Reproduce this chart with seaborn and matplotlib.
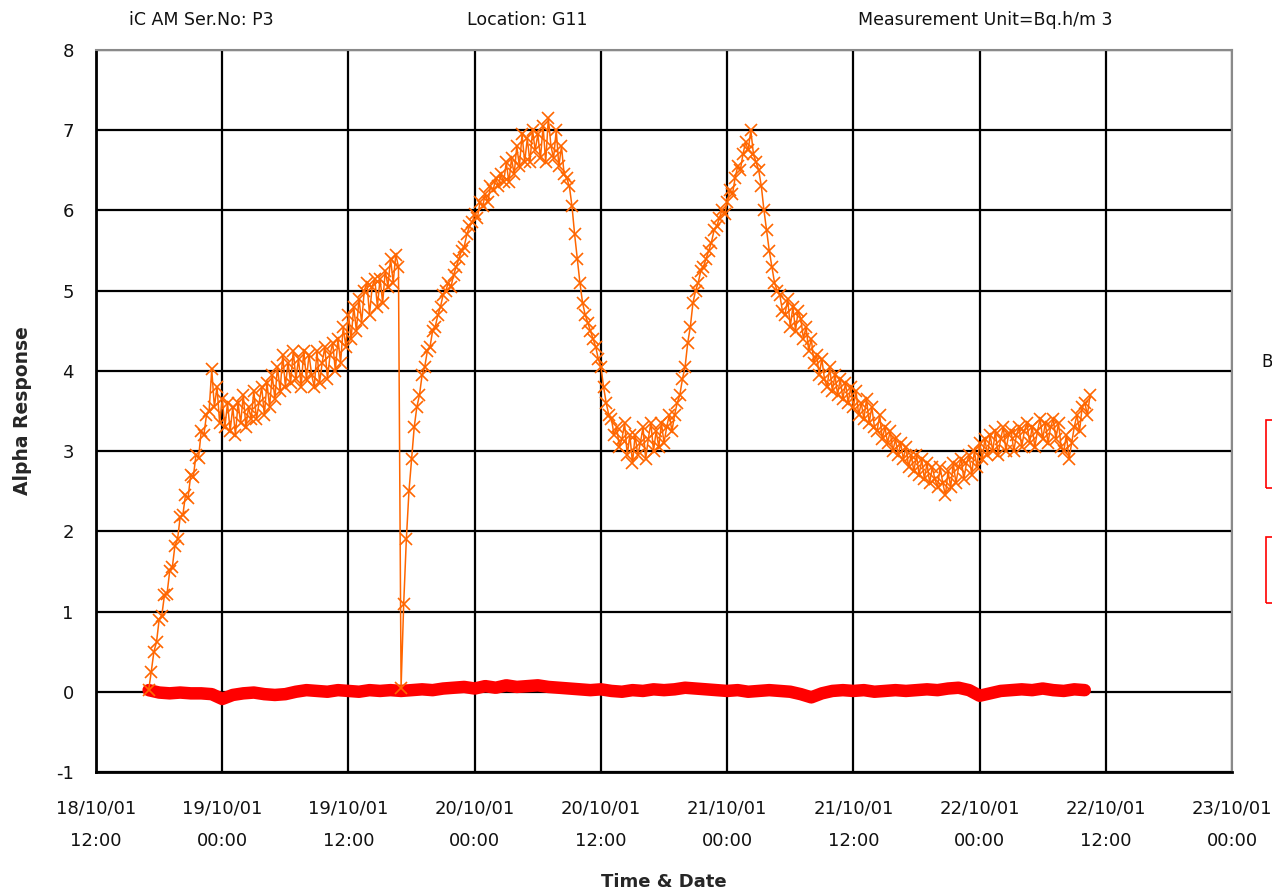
import matplotlib
matplotlib.use("Agg")
import matplotlib.pyplot as plt
import matplotlib.dates as mdates
from matplotlib.patches import Rectangle
import pandas as pd
import seaborn as sns

# Alpha response logged every 15 minutes from 18/10/01 17:00
alpha_start = "2001-10-18 17:00"
alpha_step = "15min"
alpha_response = [
    0.02, 0.25, 0.50, 0.62, 0.90, 0.95, 1.20, 1.22,
    1.50, 1.55, 1.82, 1.90, 2.18, 2.20, 2.45, 2.42,
    2.70, 2.68, 2.95, 2.92, 3.25, 3.20, 3.45, 3.50,
    4.02, 3.55, 3.80, 3.35, 3.65, 3.30, 3.60, 3.25,
    3.55, 3.20, 3.60, 3.35, 3.70, 3.30, 3.55, 3.40,
    3.75, 3.40, 3.60, 3.80, 3.45, 3.85, 3.55, 3.95,
    3.65, 4.05, 3.75, 4.20, 3.80, 4.10, 3.85, 4.25,
    3.90, 4.15, 3.80, 4.25, 3.90, 4.20, 3.95, 3.80,
    4.25, 3.85, 4.10, 4.30, 3.90, 4.20, 4.35, 4.00,
    4.40, 4.10, 4.55, 4.30, 4.70, 4.40, 4.80, 4.50,
    4.90, 4.60, 5.00, 5.10, 4.70, 5.05, 5.15, 4.80,
    5.15, 4.85, 5.25, 5.05, 5.40, 5.10, 5.45, 5.30,
    0.05, 1.10, 1.90, 2.50, 2.90, 3.30, 3.55, 3.70,
    3.95, 4.05, 4.25, 4.30, 4.50, 4.55, 4.70, 4.80,
    4.95, 5.00, 5.10, 5.05, 5.20, 5.30, 5.40, 5.50,
    5.55, 5.70, 5.80, 5.85, 5.95, 5.90, 6.10, 6.05,
    6.20, 6.10, 6.30, 6.25, 6.40, 6.30, 6.45, 6.35,
    6.60, 6.35, 6.65, 6.45, 6.80, 6.55, 6.95, 6.60,
    6.90, 6.60, 7.00, 6.75, 6.95, 6.65, 7.05, 6.60,
    7.15, 6.80, 6.65, 7.00, 6.55, 6.80, 6.45, 6.40,
    6.30, 6.05, 5.70, 5.40, 5.10, 4.85, 4.70, 4.60,
    4.50, 4.40, 4.30, 4.15, 4.05, 3.80, 3.60, 3.45,
    3.40, 3.20, 3.30, 3.05, 3.15, 3.35, 2.95, 3.20,
    2.85, 3.20, 2.95, 3.10, 3.30, 2.90, 3.15, 3.35,
    3.00, 3.25, 3.05, 3.35, 3.10, 3.30, 3.45, 3.25,
    3.45, 3.60, 3.70, 3.90, 4.05, 4.35, 4.55, 4.85,
    5.00, 5.10, 5.25, 5.30, 5.40, 5.50, 5.60, 5.75,
    5.80, 5.90, 6.00, 5.95, 6.10, 6.25, 6.20, 6.40,
    6.55, 6.50, 6.70, 6.85, 6.75, 7.00, 6.70, 6.60,
    6.50, 6.30, 6.00, 5.75, 5.50, 5.30, 5.10, 5.00,
    4.95, 4.75, 4.70, 4.90, 4.55, 4.80, 4.50, 4.75,
    4.65, 4.40, 4.55, 4.25, 4.40, 4.10, 4.20, 3.95,
    4.15, 3.90, 3.80, 4.05, 3.75, 3.95, 3.70, 3.90,
    3.65, 3.85, 3.60, 3.80, 3.55, 3.75, 3.45, 3.60,
    3.40, 3.65, 3.35, 3.55, 3.30, 3.25, 3.45, 3.15,
    3.30, 3.10, 3.25, 3.00, 3.15, 2.95, 3.10, 2.90,
    3.05, 2.80, 2.95, 2.75, 2.95, 2.70, 2.90, 2.65,
    2.85, 2.60, 2.80, 2.65, 2.55, 2.80, 2.60, 2.45,
    2.75, 2.55, 2.85, 2.60, 2.80, 2.90, 2.65, 2.85,
    2.95, 2.70, 3.00, 2.80, 3.10, 2.90, 3.15, 2.95,
    3.20, 3.00, 3.25, 2.95, 3.15, 3.30, 3.00, 3.20,
    3.25, 3.00, 3.20, 3.30, 3.05, 3.25, 3.35, 3.10,
    3.30, 3.05, 3.25, 3.40, 3.15, 3.35, 3.10, 3.30,
    3.40, 3.15, 3.35, 3.05, 3.00, 3.20, 2.90, 3.10,
    3.30, 3.45, 3.25, 3.55, 3.60, 3.45, 3.70,
]

# Background channel, hourly from 18/10/01 17:00
background_start = "2001-10-18 17:00"
background_step = "1h"
background = [
    0.02, -0.01, -0.02, -0.01, -0.02, -0.02, -0.03, -0.09, -0.04, -0.02,
    -0.01, -0.03, -0.04, -0.03, 0.00, 0.02, 0.01, 0.00, 0.02, 0.01,
    0.00, 0.02, 0.01, 0.02, 0.01, 0.02, 0.03, 0.02, 0.04, 0.05,
    0.06, 0.04, 0.07, 0.05, 0.08, 0.06, 0.07, 0.08, 0.06, 0.05,
    0.04, 0.03, 0.02, 0.03, 0.01, 0.00, 0.02, 0.01, 0.03, 0.02,
    0.03, 0.05, 0.04, 0.03, 0.02, 0.01, 0.02, 0.00, 0.01, 0.02,
    0.01, 0.00, -0.03, -0.07, -0.02, 0.01, 0.02, 0.01, 0.02, 0.00,
    0.01, 0.02, 0.01, 0.02, 0.03, 0.02, 0.04, 0.05, 0.02, -0.05,
    -0.02, 0.01, 0.02, 0.03, 0.02, 0.04, 0.02, 0.01, 0.03, 0.02,
]

y_ticks = [-1, 0, 1, 2, 3, 4, 5, 6, 7, 8]
x_start = "2001-10-18 12:00"
x_end = "2001-10-23 00:00"
header_texts = ["iC AM Ser.No: P3", "Location: G11", "Measurement Unit=Bq.h/m 3"]

alpha_df = pd.DataFrame({
    "time": pd.date_range(alpha_start, periods=len(alpha_response), freq=alpha_step),
    "value": alpha_response,
})
bg_df = pd.DataFrame({
    "time": pd.date_range(background_start, periods=len(background), freq=background_step),
    "value": background,
})

sns.set_style("white")
plt.rcParams["font.family"] = ["DejaVu Sans"]
plt.rcParams["axes.unicode_minus"] = False

fig = plt.figure(figsize=(12.72, 8.91), dpi=100)
ax = fig.add_axes([0.0755, 0.1336, 0.8931, 0.8103])

sns.lineplot(data=bg_df, x="time", y="value", ax=ax, color="#FF0000",
             linewidth=9, solid_capstyle="round", solid_joinstyle="round",
             zorder=3)
sns.lineplot(data=alpha_df, x="time", y="value", ax=ax, color="#FF6600",
             linewidth=1.1, marker="x", markersize=9, markeredgewidth=1.2,
             markeredgecolor="#FF6600", zorder=4)

ax.set_xlim(pd.Timestamp(x_start), pd.Timestamp(x_end))
ax.set_ylim(-1, 8)
ax.set_yticks(y_ticks)
ax.xaxis.set_major_locator(mdates.HourLocator(byhour=[0, 12]))
ax.xaxis.set_major_formatter(mdates.DateFormatter("%d/%m/%y\n%H:%M"))

ax.grid(True, color="black", linewidth=1.6)
ax.set_axisbelow(True)
for side in ["top", "right"]:
    ax.spines[side].set_color("#8a8a8a")
    ax.spines[side].set_linewidth(1.5)
for side in ["left", "bottom"]:
    ax.spines[side].set_color("black")
    ax.spines[side].set_linewidth(2.0)

ax.tick_params(axis="both", which="major", direction="out", length=5, width=2,
               color="black", labelsize=13, labelcolor="#111111")
ax.tick_params(axis="x", pad=15)
ax.tick_params(axis="y", pad=11)
for lbl in ax.get_xticklabels():
    lbl.set_linespacing(2.05)

ax.set_xlabel("Time & Date", fontsize=13, fontweight="bold")
ax.set_ylabel("Alpha Response", fontsize=13.5, fontweight="bold")
ax.xaxis.set_label_coords(0.5, -0.152)
ax.xaxis.label.set_verticalalignment("center")
ax.yaxis.set_label_coords(-0.065, 0.5)
ax.yaxis.label.set_verticalalignment("center")

for xpx, txt in zip([201, 527, 985], header_texts):
    fig.text(xpx / 1272, 1 - 20 / 891, txt, ha="center", va="center",
             fontsize=12.5, color="#111111")

# Edge of the side panel
fig.text(1261 / 1272, 1 - 362 / 891, "B", ha="left", va="center",
         fontsize=12, color="#111111")
for top_px, h_px in [(420, 68), (537, 66)]:
    fig.add_artist(Rectangle((1266 / 1272, 1 - (top_px + h_px) / 891),
                             20 / 1272, h_px / 891, transform=fig.transFigure,
                             fill=False, edgecolor="red", linewidth=1.2))

fig.savefig("out.png", dpi=100, facecolor="white")
